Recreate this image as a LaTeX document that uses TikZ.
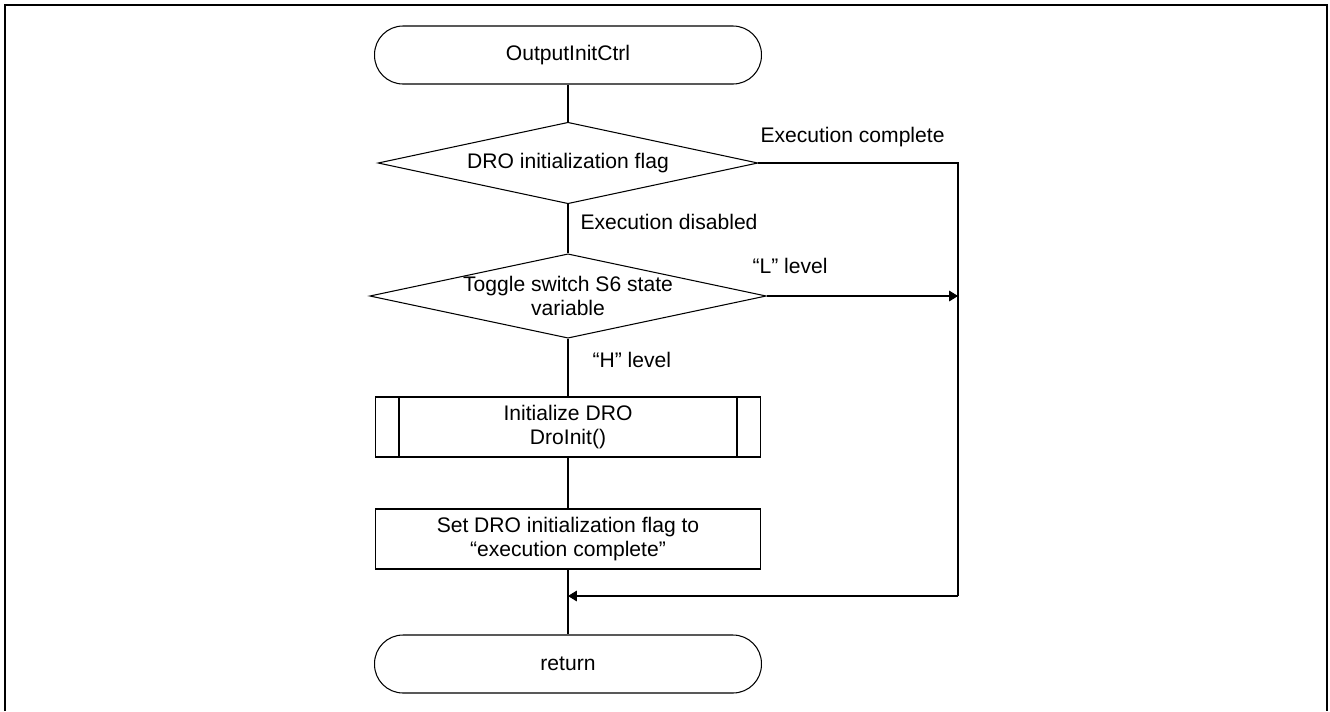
\documentclass[tikz,border=0pt]{standalone}
\usepackage{fontspec}
\setmainfont{Liberation Sans}
\usetikzlibrary{arrows.meta,shapes.geometric}

\begin{document}
\begin{tikzpicture}[x=0.02cm, y=-0.02cm, line width=0.6pt,
    font=\fontsize{12}{13.8}\selectfont,
    >={Triangle[length=5pt,width=6pt]},
    terminal/.style={draw, rectangle, rounded corners=0.57cm, minimum width=7.74cm, minimum height=1.16cm},
    decision/.style={draw, diamond, aspect=4.7, inner sep=0pt, minimum width=7.6cm, minimum height=1.63cm, align=center},
    process/.style={draw, rectangle, minimum width=7.7cm, minimum height=1.2cm, align=center},
    branch/.style={anchor=west, inner sep=0pt}]
    \useasboundingbox (0,0) rectangle (1330,711);

    % the frame round the chart
    \draw[line width=1.1pt] (5,711) -- (5,5) -- (1327,5) -- (1327,711);

    % the blocks of the chart
    \node[terminal] (start) at (568,55) {OutputInitCtrl};
    \node[decision] (d1) at (568,163) {DRO initialization flag};
    \node[decision] (d2) at (568,296) {Toggle switch S6 state\\variable};
    \node[process] (init) at (568,427) {Initialize DRO\\DroInit()};
    \node[process] (setflag) at (568,539) {Set DRO initialization flag to\\``execution complete''};
    \node[terminal] (ret) at (568,664) {return};

    % the extra lines of the subroutine box
    \draw ([xshift=0.48cm]init.north west) -- ([xshift=0.48cm]init.south west);
    \draw ([xshift=-0.48cm]init.north east) -- ([xshift=-0.48cm]init.south east);

    % the points where the branch lines turn and join
    \coordinate (rc) at (958,596);
    \coordinate (lj) at (958,296);
    \coordinate (jn) at (568,596);

    % the labels of the branches
    \node[branch] (lcomp) at (760,137) {Execution complete};
    \node[branch] (ldis) at (580,222) {Execution disabled};
    \node[branch] (llow) at (752,266) {``L'' level};
    \node[branch] (lhigh) at (592,360) {``H'' level};

    % draw the flow lines
    \draw (start) -- (d1);
    \draw (d1) -- (d2);
    \draw (d2) -- (init);
    \draw (init) -- (setflag);
    \draw (setflag) -- (ret);
    \draw (d1.east) -| (rc);
    \draw[->] (d2.east) -- (lj);
    \draw[->] (rc) -- (jn);
\end{tikzpicture}
\end{document}
